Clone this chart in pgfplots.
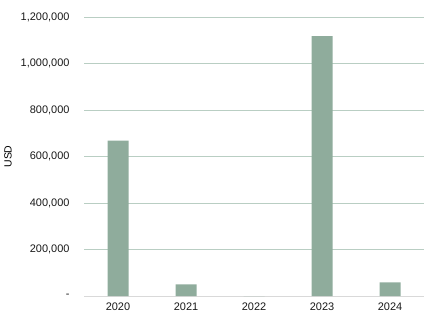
\documentclass[border=0pt]{standalone}
\usepackage{pgfplots}
\pgfplotsset{compat=1.18}
\usepackage{fontspec}
\setmainfont{Liberation Sans}
\definecolor{barc}{HTML}{8FAC9C}
\definecolor{gridc}{HTML}{B9CEC3}
\definecolor{basec}{HTML}{D9D9D9}
\begin{document}
\begin{tikzpicture}[x=1bp,y=1bp]
\useasboundingbox (0,0) rectangle (437,317);
\begin{axis}[
  at={(84bp,21bp)}, anchor=south west,
  scale only axis, width=340bp, height=279bp,
  xmin=-0.5, xmax=4.5, ymin=0, ymax=1200000,
  scaled y ticks=false,
  axis x line*=bottom, axis y line*=left,
  y axis line style={draw=none},
  x axis line style={draw=basec, line width=0.8pt},
  xtick={0,1,2,3,4}, xticklabels={2020,2021,2022,2023,2024},
  ytick={0,200000,400000,600000,800000,1000000,1200000},
  yticklabels={-,{200,000},{400,000},{600,000},{800,000},{1,000,000},{1,200,000}},
  major tick length=0pt,
  ymajorgrids, grid style={draw=gridc, line width=0.8pt},
  ylabel={USD},
  every axis y label/.style={at={(axis description cs:-0.2235,0.5)}, rotate=90, anchor=center, font=\fontsize{10.5}{12}\selectfont},
  tick label style={font=\fontsize{11}{13}\selectfont, text=black!90},
  yticklabel style={xshift=-11bp},
  xticklabel style={yshift=-3bp},
  ybar, bar width=21bp, bar shift=0pt,
]
\addplot[fill=barc, draw=none] coordinates {(0,668000) (1,50000) (2,0) (3,1118000) (4,59000)};
\end{axis}
\end{tikzpicture}
\end{document}
